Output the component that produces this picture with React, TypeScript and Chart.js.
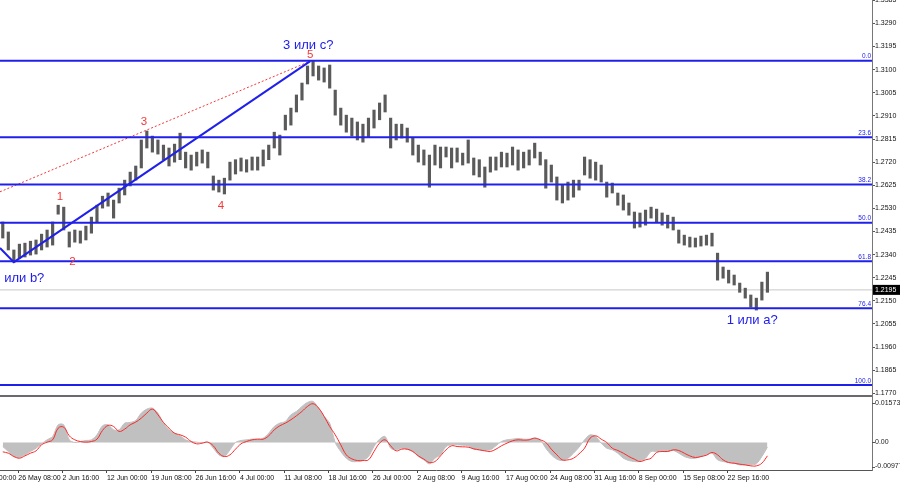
import React, { useEffect, useRef } from 'react';
import { Chart, registerables } from 'chart.js';
Chart.register(...registerables);

// ---- data (H4 bars grouped by 4) ----
const highs = [
  1.2474,1.2433,1.2359,1.2383,1.2387,1.2395,1.2400,1.2424,1.2441,1.2474,
  1.2543,1.2535,1.2433,1.2441,1.2437,1.2457,1.2494,1.2543,1.2580,1.2593,
  1.2564,1.2613,1.2646,1.2679,1.2704,1.2811,1.2848,1.2827,1.2811,1.2790,
  1.2778,1.2794,1.2839,1.2761,1.2749,1.2761,1.2770,1.2761,1.2663,1.2646,
  1.2654,1.2720,1.2730,1.2737,1.2730,1.2741,1.2741,1.2770,1.2790,1.2843,
  1.2831,1.2913,1.2942,1.2996,1.3045,1.3115,1.3135,1.3115,1.3107,1.3119,
  1.3016,1.2942,1.2913,1.2901,1.2885,1.2876,1.2901,1.2934,1.2963,1.2996,
  1.2901,1.2876,1.2876,1.2860,1.2819,1.2790,1.2770,1.2749,1.2790,1.2782,
  1.2782,1.2778,1.2778,1.2757,1.2811,1.2737,1.2730,1.2700,1.2741,1.2741,
  1.2761,1.2757,1.2782,1.2770,1.2761,1.2770,1.2798,1.2761,1.2730,1.2708,
  1.2659,1.2626,1.2638,1.2646,1.2646,1.2741,1.2730,1.2720,1.2708,1.2638,
  1.2634,1.2593,1.2585,1.2552,1.2515,1.2511,1.2523,1.2535,1.2527,1.2511,
  1.2502,1.2494,1.2441,1.2420,1.2412,1.2408,1.2416,1.2420,1.2428,1.2346,
  1.2289,1.2276,1.2256,1.2223,1.2202,1.2174,1.2161,1.2227,1.2268,
];
const lows = [
  1.2408,1.2359,1.2309,1.2326,1.2330,1.2338,1.2342,1.2359,1.2371,1.2379,
  1.2506,1.2441,1.2371,1.2391,1.2387,1.2400,1.2428,1.2474,1.2531,1.2539,
  1.2490,1.2552,1.2585,1.2622,1.2646,1.2696,1.2778,1.2761,1.2753,1.2730,
  1.2704,1.2720,1.2730,1.2696,1.2687,1.2704,1.2716,1.2696,1.2605,1.2597,
  1.2589,1.2646,1.2671,1.2683,1.2679,1.2687,1.2687,1.2704,1.2730,1.2778,
  1.2749,1.2852,1.2872,1.2926,1.2975,1.3041,1.3074,1.3057,1.3049,1.3024,
  1.2913,1.2872,1.2843,1.2827,1.2811,1.2802,1.2823,1.2860,1.2894,1.2926,
  1.2778,1.2811,1.2819,1.2802,1.2749,1.2720,1.2708,1.2617,1.2708,1.2696,
  1.2741,1.2696,1.2720,1.2708,1.2716,1.2667,1.2659,1.2617,1.2679,1.2687,
  1.2700,1.2700,1.2708,1.2687,1.2696,1.2708,1.2737,1.2708,1.2613,1.2638,
  1.2564,1.2552,1.2564,1.2576,1.2605,1.2667,1.2654,1.2646,1.2638,1.2576,
  1.2593,1.2543,1.2523,1.2502,1.2449,1.2453,1.2461,1.2490,1.2474,1.2461,
  1.2449,1.2441,1.2387,1.2379,1.2371,1.2371,1.2375,1.2379,1.2375,1.2235,
  1.2243,1.2223,1.2215,1.2185,1.2161,1.2124,1.2112,1.2153,1.2185,
];
const macdHist = [
  -0.00146,-0.00328,-0.00510,-0.00546,-0.00449,-0.00328,-0.00206,-0.00049,0.00097,0.00219,
  0.00644,0.00644,0.00097,0.00000,0.00036,0.00073,0.00097,0.00279,0.00607,0.00644,
  0.00461,0.00461,0.00704,0.00729,0.00801,0.01068,0.01214,0.01251,0.01068,0.00704,
  0.00461,0.00340,0.00243,0.00097,0.00036,0.00012,-0.00012,0.00012,-0.00206,-0.00449,
  -0.00510,-0.00267,0.00000,0.00073,0.00097,0.00121,0.00121,0.00158,0.00340,0.00583,
  0.00704,0.00765,0.01008,0.01129,0.01311,0.01457,0.01494,0.01251,0.00947,0.00704,
  0.00000,-0.00328,-0.00571,-0.00692,-0.00692,-0.00656,-0.00510,-0.00146,0.00121,0.00219,
  -0.00206,-0.00267,-0.00206,-0.00243,-0.00328,-0.00510,-0.00631,-0.00777,-0.00571,-0.00449,
  -0.00146,-0.00085,-0.00085,-0.00097,-0.00121,-0.00243,-0.00267,-0.00291,-0.00267,-0.00121,
  0.00036,0.00097,0.00121,0.00146,0.00121,0.00121,0.00158,0.00097,-0.00206,-0.00449,
  -0.00607,-0.00656,-0.00571,-0.00389,-0.00170,0.00097,0.00279,0.00219,-0.00024,-0.00206,
  -0.00267,-0.00389,-0.00571,-0.00656,-0.00692,-0.00692,-0.00571,-0.00328,-0.00328,-0.00328,
  -0.00328,-0.00291,-0.00389,-0.00510,-0.00571,-0.00571,-0.00510,-0.00449,-0.00389,-0.00631,
  -0.00692,-0.00729,-0.00753,-0.00814,-0.00814,-0.00814,-0.00777,-0.00510,-0.00170,
];
const macdSignal = [
  -0.00340,-0.00389,-0.00510,-0.00571,-0.00486,-0.00389,-0.00304,-0.00085,0.00012,0.00097,
  0.00522,0.00559,0.00243,0.00097,0.00036,0.00012,0.00036,0.00121,0.00437,0.00619,
  0.00583,0.00401,0.00486,0.00644,0.00741,0.00886,0.01068,0.01214,0.01008,0.00729,
  0.00522,0.00340,0.00279,0.00194,0.00036,-0.00049,-0.00024,0.00012,-0.00121,-0.00389,
  -0.00510,-0.00449,-0.00243,-0.00049,0.00036,0.00097,0.00121,0.00121,0.00243,0.00461,
  0.00607,0.00704,0.00826,0.00971,0.01129,0.01311,0.01409,0.01251,0.00947,0.00583,
  0.00279,-0.00085,-0.00449,-0.00595,-0.00656,-0.00656,-0.00631,-0.00328,-0.00024,0.00097,
  -0.00121,-0.00304,-0.00243,-0.00243,-0.00328,-0.00486,-0.00607,-0.00729,-0.00692,-0.00486,
  -0.00267,-0.00121,-0.00146,-0.00158,-0.00170,-0.00231,-0.00267,-0.00304,-0.00328,-0.00243,
  -0.00121,-0.00024,0.00061,0.00097,0.00085,0.00097,0.00158,0.00097,0.00000,-0.00243,
  -0.00449,-0.00631,-0.00631,-0.00571,-0.00413,-0.00206,0.00158,0.00243,0.00121,0.00000,
  -0.00206,-0.00291,-0.00389,-0.00510,-0.00607,-0.00692,-0.00631,-0.00571,-0.00364,-0.00328,
  -0.00328,-0.00267,-0.00291,-0.00389,-0.00486,-0.00546,-0.00510,-0.00461,-0.00364,-0.00449,
  -0.00631,-0.00729,-0.00753,-0.00789,-0.00814,-0.00850,-0.00850,-0.00753,-0.00486,
];

const fibPrices = [1.3137, 1.2822, 1.2628, 1.2471, 1.2313, 1.2119, 1.1804];
const fibLabels = ['0.0', '23.6', '38.2', '50.0', '61.8', '76.4', '100.0'];

const priceTicks = [1.3385, 1.3290, 1.3195, 1.3100, 1.3005, 1.2910, 1.2815, 1.2720, 1.2625,
  1.2530, 1.2435, 1.2340, 1.2245, 1.2150, 1.2055, 1.1960, 1.1865, 1.1770];
const macdTickValues = [0.01573, 0, -0.00977];
const macdTickLabels = ['0.01573', '0.00', '-0.00977'];

const dateLabels = ['19 May 00:00', '26 May 08:00', '2 Jun 16:00', '12 Jun 00:00', '19 Jun 08:00',
  '26 Jun 16:00', '4 Jul 00:00', '11 Jul 08:00', '18 Jul 16:00', '26 Jul 00:00', '2 Aug 08:00',
  '9 Aug 16:00', '17 Aug 00:00', '24 Aug 08:00', '31 Aug 16:00', '8 Sep 00:00', '15 Sep 08:00',
  '22 Sep 16:00'];
const dateLabelBars = [-18.8, 13.2, 45.2, 77.2, 109.2, 141.2, 173.2, 205.2, 237.2, 269.2, 301.2,
  333.2, 365.2, 397.2, 429.2, 461.2, 493.2, 525.2];

const currentPrice = 1.2195;

// wave lines (bar index, price)
const waveLineBars = [0, 10, 224];
const waveLinePrices = [1.2367, 1.2309, 1.3135];
const dottedLineBars = [0, 224];
const dottedLinePrices = [1.2598, 1.3135];

const waveLabels = [
  { text: '3 или c?', bar: 222.5, price: 1.3201, kind: 'blue' },
  { text: '5', bar: 224, price: 1.3162, kind: 'red' },
  { text: '3', bar: 104, price: 1.2887, kind: 'red' },
  { text: '1', bar: 43.3, price: 1.2579, kind: 'red' },
  { text: '2', bar: 52.3, price: 1.2311, kind: 'red' },
  { text: '4', bar: 159.5, price: 1.2542, kind: 'red' },
  { text: '1 или a?', bar: 543, price: 1.2071, kind: 'blue' },
  { text: '2 или b?', bar: 13.6, price: 1.2244, kind: 'blue' },
];

const X_MIN = 0;
const X_MAX = 629.5;
const PRICE_MIN = 1.17589;
const PRICE_MAX = 1.33862;
const MACD_MIN = -0.0100;
const MACD_MAX = 0.0169;

const FONT = '"Liberation Sans", Arial, sans-serif';
const BLUE = 'rgb(32,32,235)';
const RED = 'rgb(245,55,55)';

const barX = (j: number) => 4 * j + 2;

const overlay = {
  id: 'overlay',
  afterDraw(chart: any) {
    const { ctx, scales } = chart;
    const x = scales.x, y = scales.y, y2 = scales.y2;
    ctx.save();
    // separator between panels
    ctx.strokeStyle = '#6a6a6a';
    ctx.lineWidth = 2;
    ctx.beginPath();
    ctx.moveTo(0, y.bottom);
    ctx.lineTo(x.right, y.bottom);
    ctx.stroke();

    // fib labels
    ctx.fillStyle = BLUE;
    ctx.font = `6.5px ${FONT}`;
    ctx.textAlign = 'right';
    ctx.textBaseline = 'bottom';
    fibPrices.forEach((p, i) => {
      ctx.fillText(fibLabels[i], x.right - 1, y.getPixelForValue(p) - 1);
    });

    // wave labels
    ctx.textAlign = 'center';
    ctx.textBaseline = 'middle';
    waveLabels.forEach((w) => {
      ctx.fillStyle = w.kind === 'blue' ? BLUE : RED;
      ctx.font = w.kind === 'blue' ? `13px ${FONT}` : `11.5px ${FONT}`;
      ctx.fillText(w.text, x.getPixelForValue(w.bar), y.getPixelForValue(w.price));
    });

    // MACD axis labels
    ctx.fillStyle = '#222';
    ctx.strokeStyle = '#555';
    ctx.lineWidth = 1;
    ctx.font = `7px ${FONT}`;
    ctx.textAlign = 'left';
    macdTickValues.forEach((v, i) => {
      let py = y2.getPixelForValue(v);
      if (i === 0) py = y2.top + 7;
      if (i === macdTickValues.length - 1) py = y2.bottom - 3.5;
      ctx.beginPath();
      ctx.moveTo(x.right, Math.round(py) + 0.5);
      ctx.lineTo(x.right + 3, Math.round(py) + 0.5);
      ctx.stroke();
      ctx.fillText(macdTickLabels[i], x.right + 3, py);
    });

    // current price box
    const cy = y.getPixelForValue(currentPrice);
    ctx.fillStyle = '#000';
    ctx.fillRect(x.right + 1, cy - 5, 28, 10);
    ctx.fillStyle = '#fff';
    ctx.font = `7px ${FONT}`;
    ctx.fillText(currentPrice.toFixed(4), x.right + 3, cy + 0.5);
    ctx.restore();
  },
};

export default function App() {
  const ref = useRef<HTMLCanvasElement | null>(null);
  useEffect(() => {
    if (!ref.current) return;
    const fibSets = fibPrices.map((p) => ({
      type: 'line' as const,
      yAxisID: 'y',
      data: [{ x: X_MIN, y: p }, { x: X_MAX, y: p }],
      borderColor: BLUE,
      borderWidth: 2,
      pointRadius: 0,
    }));
    const chart = new Chart(ref.current, {
      type: 'bar',
      data: {
        datasets: [
          ...fibSets,
          {
            type: 'line',
            yAxisID: 'y',
            data: waveLineBars.map((b, i) => ({ x: b, y: waveLinePrices[i] })),
            borderColor: BLUE,
            borderWidth: 2,
            pointRadius: 0,
          },
          {
            type: 'line',
            yAxisID: 'y',
            data: dottedLineBars.map((b, i) => ({ x: b, y: dottedLinePrices[i] })),
            borderColor: RED,
            borderWidth: 1,
            borderDash: [2, 2],
            pointRadius: 0,
          },
          {
            type: 'bar',
            yAxisID: 'y',
            data: highs.map((h, j) => ({ x: barX(j), y: [lows[j], h] })),
            backgroundColor: '#5a5a5a',
            borderWidth: 0,
            barThickness: 2.5,
            grouped: false,
          },
          {
            type: 'line',
            yAxisID: 'y2',
            data: macdSignal.map((v, j) => ({ x: barX(j), y: v })),
            borderColor: 'rgb(255,40,40)',
            borderWidth: 1,
            pointRadius: 0,
            tension: 0.4,
          },
          {
            type: 'line',
            yAxisID: 'y2',
            data: macdHist.map((v, j) => ({ x: barX(j), y: v })),
            backgroundColor: '#c0c0c0',
            borderColor: '#c0c0c0',
            borderWidth: 1,
            pointRadius: 0,
            tension: 0.3,
            fill: 'origin',
          },
          {
            type: 'line',
            yAxisID: 'y',
            data: [{ x: X_MIN, y: currentPrice }, { x: X_MAX, y: currentPrice }],
            borderColor: '#c8c8c8',
            borderWidth: 1,
            pointRadius: 0,
          },
        ] as any,
      },
      options: {
        animation: false,
        responsive: false,
        maintainAspectRatio: false,
        layout: { padding: 0 },
        plugins: { legend: { display: false }, tooltip: { enabled: false } },
        events: [],
        scales: {
          x: {
            type: 'linear',
            min: X_MIN,
            max: X_MAX,
            offset: false,
            position: 'bottom',
            grid: { drawOnChartArea: false, drawTicks: true, tickLength: 3, color: '#444', offset: false },
            border: { display: true, color: '#555' },
            ticks: {
              autoSkip: false,
              maxRotation: 0,
              minRotation: 0,
              align: 'start',
              padding: 1,
              color: '#111',
              font: { family: FONT, size: 7 },
              callback: (_v: any, i: number) => dateLabels[i],
            },
            afterBuildTicks: (s: any) => {
              s.ticks = dateLabelBars.map((v) => ({ value: v }));
            },
            afterFit: (s: any) => {
              s.height = 15;
              s.paddingLeft = 0;
              s.paddingRight = 0;
            },
          },
          y: {
            type: 'linear',
            position: 'right',
            stack: 'panes',
            stackWeight: 396,
            min: PRICE_MIN,
            max: PRICE_MAX,
            grid: { drawOnChartArea: false, drawTicks: true, tickLength: 3, color: '#555' },
            border: { display: true, color: '#777' },
            ticks: {
              padding: 0,
              color: '#111',
              font: { family: FONT, size: 7 },
              callback: (v: any) => Number(v).toFixed(4),
            },
            afterBuildTicks: (s: any) => {
              s.ticks = priceTicks.map((v) => ({ value: v }));
            },
            afterFit: (s: any) => {
              s.width = 28;
              s.paddingTop = 0;
              s.paddingBottom = 0;
            },
          },
          y2: {
            type: 'linear',
            position: 'right',
            stack: 'panes',
            stackWeight: 74,
            min: MACD_MIN,
            max: MACD_MAX,
            grid: { drawOnChartArea: false, drawTicks: false },
            border: { display: true, color: '#777' },
            ticks: { display: false },
            afterFit: (s: any) => {
              s.width = 28;
              s.paddingTop = 0;
              s.paddingBottom = 0;
            },
          },
        },
      } as any,
      plugins: [overlay],
    });
    return () => chart.destroy();
  }, []);
  return (
    <div style={{ position: 'fixed', left: 0, top: 0, width: 900, height: 485, background: '#fff' }}>
      <canvas ref={ref} width={900} height={485} style={{ display: 'block' }} />
    </div>
  );
}
